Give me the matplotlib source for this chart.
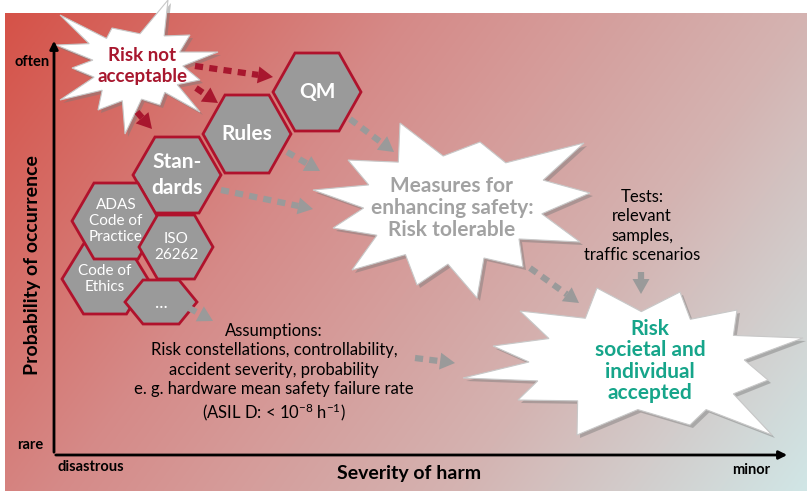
import matplotlib
matplotlib.use("Agg")
import matplotlib.pyplot as plt
from matplotlib.patches import Polygon
import numpy as np

plt.rcParams['font.family'] = ['Lato', 'DejaVu Sans']
plt.rcParams['mathtext.fontset'] = 'custom'
plt.rcParams['mathtext.rm'] = 'Lato'
plt.rcParams['mathtext.it'] = 'Lato'

W, H = 807, 491
RED = '#a8172e'
GREY = '#9a9a9a'
TEAL = '#16a58a'

# hexagon blocks: label, centre, half width, half height, bold
hex_labels = ['QM', 'Rules', 'Stan-\ndards', 'Code of\nEthics', 'ADAS\nCode of\nPractice', 'ISO\n26262', '...']
hex_centres = [(317, 92), (247, 134), (177, 175), (105, 279), (116, 221), (176, 247), (161, 302)]
hex_rx = [44, 44, 44, 43, 44, 37, 36]
hex_ry = [39, 39, 38, 35, 38, 32, 22]
hex_bold = [True, True, True, False, False, False, False]

# starbursts: text, colour, centre, tips, valley factor
star_texts = ['Risk not\nacceptable', 'Measures for\nenhancing safety:\nRisk tolerable',
              'Risk\nsocietal and\nindividual\naccepted']
star_colors = [RED, '#a2a2a2', TEAL]
star_centres = [(140, 66), (450, 206), (648, 362)]
star_tips = [
    [(168, 0), (190, 35), (218, 52), (200, 80), (200, 112), (160, 105), (125, 134),
     (98, 110), (60, 100), (72, 68), (56, 45), (60, 15), (112, 28)],
    [(400, 123), (480, 142), (584, 143), (590, 193), (580, 242), (523, 267), (477, 298),
     (417, 285), (352, 270), (333, 228), (313, 190), (348, 160)],
    [(597, 288), (680, 292), (737, 310), (803, 338), (768, 380), (772, 435), (690, 425),
     (577, 435), (518, 400), (463, 378), (493, 346), (520, 311)],
]
star_k = [0.62, 0.68, 0.7]
star_text_y = [66, 208, 361]
star_size = [13.5, 15, 15]
star_spacing = [1.3, 1.1, 1.1]

# dotted arrows: start, tip, colour
arrows = [
    ((195, 66), (273, 77), RED),
    ((196, 88), (218, 103), RED),
    ((137, 112), (152, 129), RED),
    ((350, 119), (394, 152), GREY),
    ((287, 152), (320, 171), GREY),
    ((221, 190), (313, 209), GREY),
    ((530, 268), (579, 303), GREY),
    ((641, 272), (641, 294), GREY),
    ((189, 308), (213, 321), GREY),
    ((415, 358), (455, 363), GREY),
]

tests_text = 'Tests:\nrelevant\nsamples,\ntraffic scenarios'
assumptions_text = ('Assumptions:\nRisk constellations, controllability,\n'
                    'accident severity, probability\ne. g. hardware mean safety failure rate\n'
                    '(ASIL D: < 10$^{-8}$ h$^{-1}$)')


def hexagon(cx, cy, rx, ry):
    return [(cx - rx, cy), (cx - rx / 2, cy - ry), (cx + rx / 2, cy - ry),
            (cx + rx, cy), (cx + rx / 2, cy + ry), (cx - rx / 2, cy + ry)]


def starburst(centre, tips, k):
    cx, cy = centre
    pts = []
    n = len(tips)
    for i in range(n):
        x1, y1 = tips[i]
        x2, y2 = tips[(i + 1) % n]
        mx, my = (x1 + x2) / 2, (y1 + y2) / 2
        pts.append((x1, y1))
        pts.append((cx + k * (mx - cx), cy + k * (my - cy)))
    return pts


def dotted_arrow(ax, p0, p1, color):
    p0 = np.array(p0, float)
    p1 = np.array(p1, float)
    d = p1 - p0
    L = np.hypot(*d)
    u = d / L
    n = np.array([-u[1], u[0]])
    head = 15
    base = p1 - u * head
    if L > head + 4:
        ax.plot([p0[0], base[0]], [p0[1], base[1]], color=color, lw=4.5,
                dashes=(1.3, 1.0), solid_capstyle='butt', dash_capstyle='butt', zorder=4)
    tri = [p1, base + n * 8.5, base - n * 8.5]
    ax.add_patch(Polygon(tri, closed=True, facecolor=color, edgecolor='none', zorder=4))


fig = plt.figure(figsize=(W / 100, H / 100), dpi=100)
ax = fig.add_axes([0, 0, 1, 1])
ax.set_xlim(0, W)
ax.set_ylim(H, 0)
ax.axis('off')

# gradient background
xs = np.linspace(0, 1, 400)
ys = np.linspace(0, 1, 250)
X, Y = np.meshgrid(xs, ys)
t = np.clip((X * 0.8 + Y * 0.35) / 1.15, 0, 1)
stops = np.array([0, 0.35, 0.7, 1.0])
cols = np.array([[213, 82, 72], [214, 138, 136], [212, 180, 178], [208, 230, 230]]) / 255
img = np.stack([np.interp(t, stops, cols[:, c]) for c in range(3)], axis=-1)
ax.imshow(img, extent=(5, W, H, 13), aspect='auto', zorder=0, interpolation='bilinear')

# axes arrows
ax.annotate('', xy=(54, 38), xytext=(54, 455),
            arrowprops=dict(arrowstyle='-|>', color='black', lw=2, mutation_scale=12), zorder=2)
ax.annotate('', xy=(790, 455), xytext=(53, 455),
            arrowprops=dict(arrowstyle='-|>', color='black', lw=2, mutation_scale=12), zorder=2)
ax.text(32, 62, 'often', fontsize=10.5, fontweight='bold', ha='center', va='center')
ax.text(30, 445, 'rare', fontsize=10.5, fontweight='bold', ha='center', va='center')
ax.text(91, 467, 'disastrous', fontsize=10.5, fontweight='bold', ha='center', va='center')
ax.text(751, 470, 'minor', fontsize=10.5, fontweight='bold', ha='center', va='center')
ax.text(409, 474, 'Severity of harm', fontsize=14, fontweight='bold', ha='center', va='center')
ax.text(33, 265, 'Probability of occurrence', fontsize=14, fontweight='bold',
        ha='center', va='center', rotation=90)

# starbursts
for txt, col, c, tips, k, ty, fs, ls in zip(star_texts, star_colors, star_centres, star_tips,
                                            star_k, star_text_y, star_size, star_spacing):
    pts = starburst(c, tips, k)
    shadow = [(x + 3, y + 3) for x, y in pts]
    ax.add_patch(Polygon(shadow, closed=True, facecolor='#7a7a7a', alpha=0.45,
                         edgecolor='none', zorder=1))
    ax.add_patch(Polygon(pts, closed=True, facecolor='white', edgecolor='#c8c8c8',
                         lw=0.8, zorder=1.5))
    ax.text(c[0] + 2, ty, txt, color=col, fontsize=fs, fontweight='bold',
            ha='center', va='center', linespacing=ls, zorder=5)

# hexagons
for lab, c, rx, ry, b in zip(hex_labels, hex_centres, hex_rx, hex_ry, hex_bold):
    ax.add_patch(Polygon(hexagon(c[0], c[1], rx, ry), closed=True, facecolor=GREY,
                         edgecolor='#b0122c', lw=2, zorder=3))
    dots = lab == '...'
    ax.text(c[0], c[1] + (1 if dots else 0), lab, color='white',
            fontsize=15 if b else (13 if dots else 11), fontweight='bold' if b else 'normal',
            ha='center', va='center', linespacing=1.35 if b else 1.15, zorder=3.5)

# arrows
for p0, p1, col in arrows:
    dotted_arrow(ax, p0, p1, col)

ax.text(642, 226, tests_text, fontsize=12, ha='center', va='center', linespacing=1.25, zorder=5)
ax.text(274, 373, assumptions_text, fontsize=12, ha='center', va='center', linespacing=1.25, zorder=5)

fig.savefig('out.png', dpi=100)
